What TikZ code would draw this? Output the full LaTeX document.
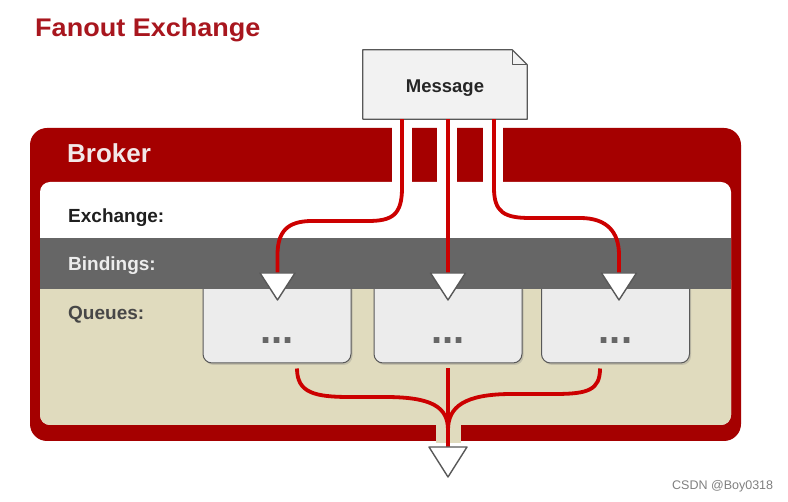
\documentclass[tikz,border=0pt]{standalone}
\usepackage{fontspec}
\setmainfont{Liberation Sans}
\usetikzlibrary{shadows,calc}
\definecolor{titlered}{RGB}{168,22,30}
\definecolor{brokerred}{RGB}{165,0,0}
\definecolor{linered}{RGB}{204,0,0}
\definecolor{bandgray}{RGB}{102,102,102}
\definecolor{beige}{RGB}{224,219,190}
\definecolor{qfill}{RGB}{236,236,236}
\definecolor{msgfill}{RGB}{242,242,242}
\definecolor{bordergray}{RGB}{88,88,88}
\definecolor{brokertext}{RGB}{242,232,232}
\begin{document}
\begin{tikzpicture}[x=1pt,y=-1pt,
  conn/.style={draw=linered,line width=3.8pt},
  tri/.style={draw=bordergray,fill=white,line width=1.4pt,line join=round},
  qbox/.style={draw=bordergray,fill=qfill,line width=1pt,rounded corners=9pt,
    minimum width=148pt,minimum height=84pt,inner sep=0pt,
    drop shadow={shadow xshift=1.5pt,shadow yshift=-2pt,opacity=0.3}},
  dots/.style={text=bandgray,font=\bfseries\fontsize{40}{40}\selectfont,inner sep=0pt,anchor=base},
  rowlabel/.style={font=\bfseries\fontsize{19}{19}\selectfont,anchor=base west,inner sep=0pt}]
\useasboundingbox (0,0) rectangle (788,502);
\fill[white] (0,0) rectangle (788,502);
% title
\node[anchor=base west,inner sep=0pt,text=titlered,font=\bfseries\fontsize{25.5}{25.5}\selectfont,xscale=1.06] (title) at (35,37) {Fanout Exchange};
% broker frame
\fill[brokerred,rounded corners=17pt] (30,128) rectangle (741,441);
\fill[white,rounded corners=10pt] (40,182) rectangle (731,425);
\fill[beige,rounded corners=10pt] (40,270) rectangle (731,425);
% slits
\fill[white] (392,126) rectangle (412,184);
\fill[white] (437,126) rectangle (457,184);
\fill[white] (483,126) rectangle (503,184);
\fill[beige] (436,420) rectangle (461,443);
\node[anchor=base west,inner sep=0pt,text=brokertext,font=\bfseries\fontsize{26}{26}\selectfont] (broker) at (67,163) {Broker};
% queues
\node[qbox] (q1) at (277,321) {};
\node[qbox] (q2) at (448,321) {};
\node[qbox] (q3) at (615.5,321) {};
\node[dots] at ($(q1.south)+(0,-20)$) {...};
\node[dots] at ($(q2.south)+(0,-20)$) {...};
\node[dots] at ($(q3.south)+(0,-20)$) {...};
% bindings band
\fill[bandgray] (40,238) rectangle (731,289);
\node[rowlabel,text=black!88] (exch) at (68,223) {Exchange:};
\node[rowlabel,text=white!93!black] (bind) at (68,271) {Bindings:};
\node[rowlabel,text=black!72] (queues) at (68,320) {Queues:};
% message
\node[minimum width=164pt,minimum height=69pt,inner sep=0pt] (msg) at (445,84.5) {};
\draw[bordergray,fill=msgfill,line width=1.2pt,line join=round]
  (msg.north west) -- ($(msg.north east)+(-15,0)$) -- ($(msg.north east)+(0,15)$) -- (msg.south east) -- (msg.south west) -- cycle;
\draw[bordergray,line width=1pt,line join=round] ($(msg.north east)+(-15,0)$) -- ($(msg.north east)+(-15,15)$) -- ($(msg.north east)+(0,15)$);
\node[font=\bfseries\fontsize{18.5}{18.5}\selectfont,text=black!85,inner sep=0pt,anchor=base] (msgtext) at (445,93) {Message};
% arrow coordinates
\coordinate (a1) at (277.5,273);
\coordinate (a2) at (448,273);
\coordinate (a3) at (619,273);
\coordinate (ab) at (448,447);
% connectors top
\draw[conn] ($(msg.south)+(-43,0)$) -- (402,188) .. controls (402,215) and (392,221) .. (368,221) -- (312,221) .. controls (287,221) and (277.5,232) .. (277.5,255) -- (a1);
\draw[conn] ($(msg.south)+(3,0)$) -- (a2);
\draw[conn] ($(msg.south)+(49,0)$) -- (494,188) .. controls (494,212) and (504,218) .. (530,218) -- (580,218) .. controls (607,218) and (619,232) .. (619,255) -- (a3);
% connectors bottom
\draw[conn] ($(q1.south)+(20,5)$) .. controls (297,393) and (315,397) .. (350,397) -- (385,397) .. controls (432,397) and (448,407) .. (448,430) -- (ab);
\draw[conn] ($(q3.south)+(-15.5,5)$) .. controls (600,390) and (588,394) .. (555,394) -- (512,394) .. controls (464,394) and (448,407) .. (448,430) -- (ab);
\draw[conn] ($(q2.south)+(0,5)$) -- (ab);
% arrowheads
\draw[tri] (a1) ++(-17.5,0) -- ++(35,0) -- ++(-17.5,27) -- cycle;
\draw[tri] (a2) ++(-17.5,0) -- ++(35,0) -- ++(-17.5,27) -- cycle;
\draw[tri] (a3) ++(-17.5,0) -- ++(35,0) -- ++(-17.5,27) -- cycle;
\draw[tri] (ab) ++(-19,0) -- ++(38,0) -- ++(-19,30) -- cycle;
% footer
\node[anchor=base west,inner sep=0pt,text=black!50,font=\fontsize{12.5}{12.5}\selectfont] (csdn) at (672,490) {CSDN @Boy0318};
\end{tikzpicture}
\end{document}
